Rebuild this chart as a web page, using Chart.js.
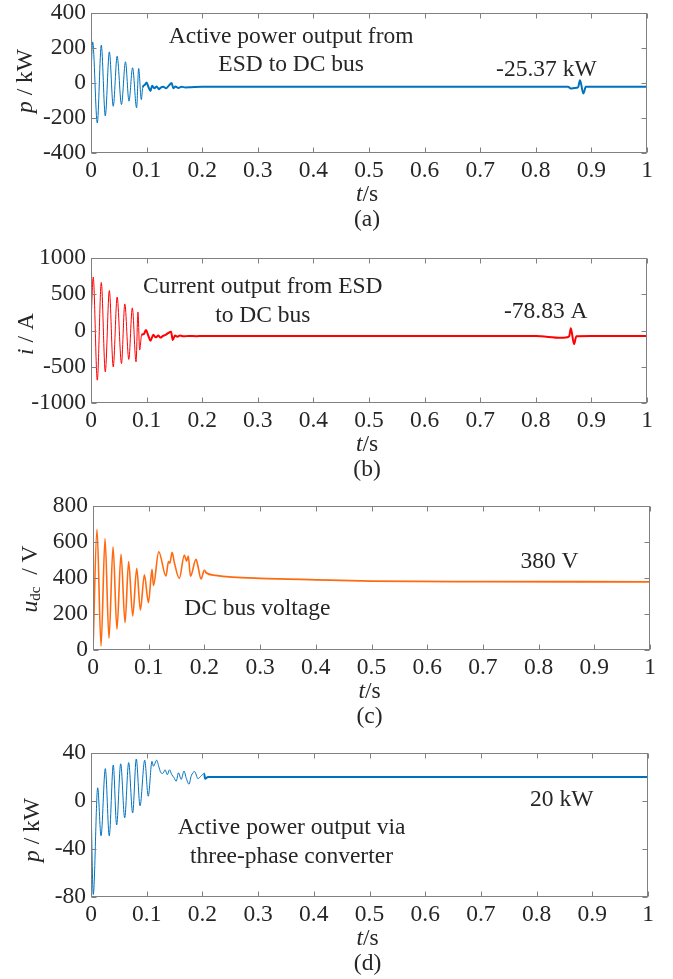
<!DOCTYPE html>
<html>
<head>
<meta charset="utf-8">
<script src="https://cdn.jsdelivr.net/npm/chart.js@4.4.1/dist/chart.umd.min.js"></script>
<style>
  html, body { margin: 0; padding: 0; background: #fff; }
  #page { position: relative; width: 673px; height: 979px; }
  canvas { position: absolute; left: 0; }
</style>
</head>
<body>
<div id="page">
  <canvas id="chartA" width="673" height="245" style="top:0px"></canvas>
  <canvas id="chartB" width="673" height="245" style="top:240px"></canvas>
  <canvas id="chartC" width="673" height="252" style="top:480px"></canvas>
  <canvas id="chartD" width="673" height="254" style="top:725px"></canvas>
</div>
<script>
// shared time axis
const xTicks = [0, 0.1, 0.2, 0.3, 0.4, 0.5, 0.6, 0.7, 0.8, 0.9, 1];
const xTickLabels = ['0', '0.1', '0.2', '0.3', '0.4', '0.5', '0.6', '0.7', '0.8', '0.9', '1'];

// (a) active power ESD -> DC bus, kW
const tA = [0, 0.003, 0.0113, 0.0185, 0.0257, 0.033, 0.040, 0.047, 0.0548, 0.062, 0.0683, 0.0748, 0.082, 0.0857, 0.0905,
  0.093, 0.097, 0.100, 0.103, 0.107, 0.110, 0.114, 0.118, 0.122, 0.126, 0.130, 0.135, 0.140, 0.145, 0.148, 0.152, 0.157,
  0.163, 0.170, 0.180, 0.200, 0.300, 0.400, 0.500, 0.600, 0.700, 0.800, 0.858, 0.863, 0.870, 0.876, 0.8795, 0.8855, 0.890, 0.900, 1.000];
const pA = [50, 235, -228, 216, -188, 178, -133, 153, -123, 121, -104, 87, -142, 83, -95,
  -26, -10, 3, -20, -45, -15, -30, -20, -35, -25, -22, -30, -15, 0, -30, -20, -28,
  -22, -25, -24, -22, -21, -22, -21, -22, -21, -21, -22, -31, -28, -25, 16, -60, -22, -21, -21];
const yTicksA = [-400, -200, 0, 200, 400];
const yLabelsA = ['-400', '-200', '0', '200', '400'];

// (b) current ESD -> DC bus, A
const tB = [0, 0.004, 0.0113, 0.0185, 0.0257, 0.033, 0.040, 0.047, 0.0548, 0.0608, 0.068, 0.0743, 0.081, 0.0845, 0.0875,
  0.091, 0.095, 0.0987, 0.103, 0.107, 0.112, 0.1164, 0.121, 0.125, 0.1294, 0.134, 0.138, 0.144, 0.147, 0.151, 0.1555, 0.160,
  0.167, 0.175, 0.190, 0.200, 0.300, 0.400, 0.500, 0.600, 0.700, 0.800, 0.845, 0.853, 0.860, 0.863, 0.8687, 0.873, 0.900, 1.000];
const iB = [100, 737, -685, 662, -570, 551, -501, 460, -455, 367, -399, 312, -432, 256, -270,
  -62, -50, 7, -70, -141, -60, -94, -70, -98, -75, -62, -40, -16, -131, -70, -85, -70,
  -80, -75, -78, -76, -76, -77, -76, -77, -76, -77, -100, -98, -80, 30, -187, -80, -77, -77];
const yTicksB = [-1000, -500, 0, 500, 1000];
const yLabelsB = ['-1000', '-500', '0', '500', '1000'];

// (c) DC bus voltage, V
const tC = [0, 0.0072, 0.0144, 0.0216, 0.0287, 0.036, 0.043, 0.0503, 0.0575, 0.064, 0.0713, 0.0785, 0.085, 0.0923, 0.0995,
  0.106, 0.1085, 0.118, 0.131, 0.1355, 0.138, 0.142, 0.146, 0.155, 0.164, 0.168, 0.171, 0.175, 0.185, 0.188, 0.194,
  0.200, 0.203, 0.220, 0.250, 0.300, 0.400, 0.500, 0.700, 1.000];
const uC = [0, 670, 22, 619, 65, 574, 115, 532, 152, 491, 189, 454, 222, 418, 263,
  448, 358, 546, 411, 491, 482, 543, 486, 398, 528, 494, 522, 410, 504, 472, 395,
  444, 429, 415, 405, 398, 390, 383, 380, 379];
const yTicksC = [0, 200, 400, 600, 800];
const yLabelsC = ['0', '200', '400', '600', '800'];

// (d) active power via three-phase converter, kW
const tD = [0, 0.0041, 0.012, 0.018, 0.0257, 0.0328, 0.040, 0.046, 0.0533, 0.0605, 0.0676, 0.0748, 0.0813, 0.088, 0.0964,
  0.1028, 0.1095, 0.112, 0.118, 0.1215, 0.125, 0.129, 0.133, 0.137, 0.141, 0.145, 0.149, 0.153, 0.157, 0.162, 0.167,
  0.171, 0.176, 0.180, 0.186, 0.192, 0.198, 0.203, 0.205, 0.210, 0.250, 0.300, 0.400, 0.500, 0.600, 0.700, 0.800, 0.900, 1.000];
const pD = [0, -78, 11, -29, 27, -29, 30, -20, 31, -14, 32, -10, 35, -4, 34,
  4, 33, 29, 34, 29, 24, 23, 26, 22, 26, 22, 19.5, 16.5, 23.5, 18, 25,
  19, 14, 21, 24.5, 18.7, 21, 23, 18.5, 20, 20, 20, 20, 20, 20, 20, 20, 20, 20];
const yTicksD = [-80, -40, 0, 40];
const yLabelsD = ['-80', '-40', '0', '40'];

const FAMILY = '"Liberation Serif", "Times New Roman", serif';
const FONT_SIZE = 23.5;
const TEXT_COLOR = '#262626';
const AXIS_COLOR = '#808080';
const X_AXIS_H = 30;
const TICK_LEN = 5;

// text drawn on each panel (positions of notes are in data units)
const panelText = {
  chartA: {
    notes: [
      { text: 'Active power output from', t: 0.36, v: 266 },
      { text: 'ESD to DC bus', t: 0.36, v: 102 },
      { text: '-25.37 kW', t: 0.819, v: 73 }
    ],
    caption: '(a)',
    yTitle: [{ text: 'p', italic: true }, { text: ' / kW' }],
    yTitleX: 26, yTitleY: 81
  },
  chartB: {
    notes: [
      { text: 'Current output from ESD', t: 0.309, v: 607 },
      { text: 'to DC bus', t: 0.309, v: 201 },
      { text: '-78.83 A', t: 0.818, v: 260 }
    ],
    caption: '(b)',
    yTitle: [{ text: 'i', italic: true }, { text: ' / A' }],
    yTitleX: 26.5, yTitleY: 94
  },
  chartC: {
    notes: [
      { text: 'DC bus voltage', t: 0.295, v: 226 },
      { text: '380 V', t: 0.8195, v: 490 }
    ],
    caption: '(c)',
    yTitle: [{ text: 'u', italic: true }, { text: 'dc', sub: true }, { text: '  / V' }],
    yTitleX: 30.5, yTitleY: 99
  },
  chartD: {
    notes: [
      { text: 'Active power output via', t: 0.36, v: -22.5 },
      { text: 'three-phase converter', t: 0.36, v: -46.5 },
      { text: '20 kW', t: 0.845, v: 1 }
    ],
    caption: '(d)',
    yTitle: [{ text: 'p', italic: true }, { text: ' / kW' }],
    yTitleX: 33, yTitleY: 105
  }
};

function runFont(run) {
  const size = run.sub ? 15 : FONT_SIZE;
  return (run.italic ? 'italic ' : '') + size + 'px ' + FAMILY;
}

// draws a row of text pieces centred on (cx, cy)
function drawRuns(ctx, runs, cx, cy) {
  let total = 0;
  runs.forEach(r => { ctx.font = runFont(r); total += ctx.measureText(r.text).width; });
  let x = cx - total / 2;
  ctx.textAlign = 'left';
  ctx.textBaseline = 'middle';
  runs.forEach(r => {
    ctx.font = runFont(r);
    ctx.fillText(r.text, x, cy + (r.sub ? 6 : 0));
    x += ctx.measureText(r.text).width;
  });
}

// MATLAB style box with inward ticks on all four sides
const framePlugin = {
  id: 'frame',
  afterDatasetsDraw(chart) {
    const { ctx, chartArea: a, scales: { x, y } } = chart;
    const L = Math.round(a.left) + 0.5, R = Math.round(a.right) - 0.5;
    const T = Math.round(a.top) + 0.5, B = Math.round(a.bottom) - 0.5;
    ctx.save();
    ctx.strokeStyle = AXIS_COLOR;
    ctx.lineWidth = 1;
    ctx.beginPath();
    x.ticks.forEach(tk => {
      const px = Math.round(x.getPixelForValue(tk.value)) + 0.5;
      ctx.moveTo(px, B); ctx.lineTo(px, B - TICK_LEN);
      ctx.moveTo(px, T); ctx.lineTo(px, T + TICK_LEN);
    });
    y.ticks.forEach(tk => {
      const py = Math.round(y.getPixelForValue(tk.value)) + 0.5;
      ctx.moveTo(L, py); ctx.lineTo(L + TICK_LEN, py);
      ctx.moveTo(R, py); ctx.lineTo(R - TICK_LEN, py);
    });
    ctx.stroke();
    ctx.strokeRect(L, T, R - L, B - T);
    ctx.restore();
  }
};

const textPlugin = {
  id: 'panelText',
  afterDraw(chart) {
    const cfg = panelText[chart.canvas.id];
    if (!cfg) return;
    const { ctx, chartArea: a, scales: { x, y } } = chart;
    ctx.save();
    ctx.fillStyle = TEXT_COLOR;
    ctx.textBaseline = 'middle';
    ctx.textAlign = 'center';
    ctx.font = FONT_SIZE + 'px ' + FAMILY;
    cfg.notes.forEach(n => {
      ctx.fillText(n.text, x.getPixelForValue(n.t), y.getPixelForValue(n.v));
    });

    const cx = (a.left + a.right) / 2 - 2;
    drawRuns(ctx, [{ text: 't', italic: true }, { text: '/s' }], cx, a.bottom + 41.5);
    ctx.textAlign = 'center';
    ctx.font = FONT_SIZE + 'px ' + FAMILY;
    ctx.fillText(cfg.caption, cx, a.bottom + 66.5);

    ctx.translate(cfg.yTitleX, cfg.yTitleY);
    ctx.rotate(-Math.PI / 2);
    drawRuns(ctx, cfg.yTitle, 0, 0);
    ctx.restore();
  }
};

function makePanel(id, opts) {
  const canvas = document.getElementById(id);
  const W = canvas.width, H = canvas.height;
  const area = opts.area;
  const tickFont = { family: FAMILY, size: FONT_SIZE };

  return new Chart(canvas, {
    type: 'line',
    data: {
      datasets: [{
        data: opts.t.map((t, k) => ({ x: t, y: opts.v[k] })),
        borderColor: opts.color,
        borderWidth: opts.thin,
        pointRadius: 0,
        cubicInterpolationMode: 'monotone',
        segment: {
          borderWidth: c => (c.p0.parsed.x >= opts.settle ? opts.thick : opts.thin)
        }
      }]
    },
    options: {
      responsive: false,
      animation: false,
      events: [],
      layout: {
        padding: { left: 0, top: area.top, right: W - area.right, bottom: H - area.bottom - X_AXIS_H }
      },
      plugins: {
        legend: { display: false },
        tooltip: { enabled: false }
      },
      scales: {
        x: {
          type: 'linear',
          min: 0,
          max: 1,
          grid: { display: false, drawTicks: false },
          border: { display: false },
          afterBuildTicks: s => { s.ticks = xTicks.map(v => ({ value: v })); },
          afterFit: s => { s.height = X_AXIS_H; s.paddingLeft = 0; s.paddingRight = 0; },
          ticks: {
            font: tickFont,
            color: TEXT_COLOR,
            padding: 4,
            maxRotation: 0,
            autoSkip: false,
            callback: (v, k) => xTickLabels[k]
          }
        },
        y: {
          type: 'linear',
          min: opts.yTicks[0],
          max: opts.yTicks[opts.yTicks.length - 1],
          grid: { display: false, drawTicks: false },
          border: { display: false },
          afterBuildTicks: s => { s.ticks = opts.yTicks.map(v => ({ value: v })); },
          afterFit: s => { s.width = area.left; s.paddingTop = 0; s.paddingBottom = 0; },
          ticks: {
            font: tickFont,
            color: TEXT_COLOR,
            padding: 5,
            autoSkip: false,
            callback: (v, k) => opts.yLabels[k]
          }
        }
      }
    },
    plugins: [framePlugin, textPlugin]
  });
}

makePanel('chartA', {
  t: tA, v: pA, yTicks: yTicksA, yLabels: yLabelsA,
  color: '#0072BD', thin: 1, thick: 2, settle: 0.092,
  area: { left: 91, top: 13, right: 647, bottom: 153 }
});
makePanel('chartB', {
  t: tB, v: iB, yTicks: yTicksB, yLabels: yLabelsB,
  color: '#FF0000', thin: 1, thick: 2, settle: 0.09,
  area: { left: 91, top: 18, right: 647, bottom: 163 }
});
makePanel('chartC', {
  t: tC, v: uC, yTicks: yTicksC, yLabels: yLabelsC,
  color: '#FF6A10', thin: 1.6, thick: 1.8, settle: 0.2,
  area: { left: 93, top: 26, right: 650, bottom: 170 }
});
makePanel('chartD', {
  t: tD, v: pD, yTicks: yTicksD, yLabels: yLabelsD,
  color: '#0072BD', thin: 1, thick: 2, settle: 0.2,
  area: { left: 91, top: 28, right: 648, bottom: 172 }
});
</script>
</body>
</html>
